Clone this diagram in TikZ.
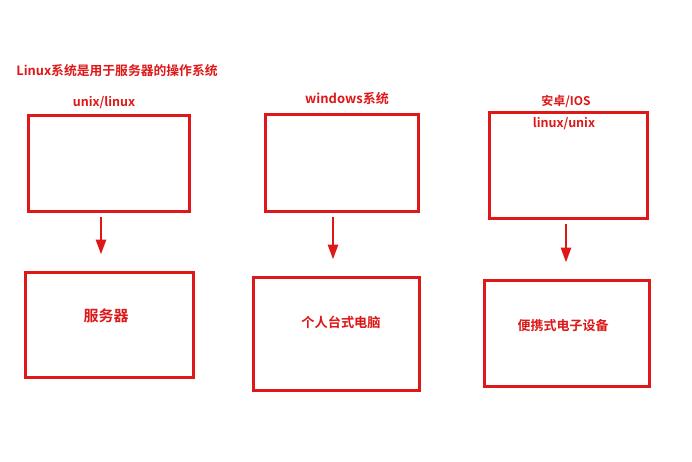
\documentclass[tikz,border=0pt]{standalone}
\usepackage{fontspec}
\newfontfamily\cjk{Noto Sans CJK SC}[BoldFont={Noto Sans CJK SC Bold}]
\usepackage{xcolor}
\usetikzlibrary{arrows.meta,shadows}
\definecolor{boxred}{RGB}{222,24,24}
\tikzset{
  frame/.style={draw=boxred, line width=3pt, fill=white, anchor=center,
    drop shadow={opacity=0.3, shadow xshift=2pt, shadow yshift=-2pt}},
  tag/.style={text=boxred, font=\cjk\bfseries\fontsize{11.5}{13}\selectfont, inner sep=1pt},
  big/.style={font=\cjk\bfseries\fontsize{#1}{#1}\selectfont},
  down/.style={draw=boxred, line width=2.8pt, -{Triangle[length=15pt,width=10pt]},
    shorten <=4pt, shorten >=16pt}
}
\begin{document}
\begin{tikzpicture}[x=1pt,y=-1pt]
\useasboundingbox (0,0) rectangle (692,461);
\fill[white] (0,0) rectangle (692,461);
% upper row: systems
\node[frame, minimum width=161pt, minimum height=96pt] (unixbox) at (108.5,163) {};
\node[frame, minimum width=153pt, minimum height=97pt] (winbox) at (341.5,162.5) {};
\node[frame, minimum width=158pt, minimum height=106pt] (mobbox) at (568,165) {};
% lower row: devices
\node[frame, minimum width=168pt, minimum height=105pt] (server) at (109,324.5) {};
\node[frame, minimum width=166pt, minimum height=113pt] (desktop) at (336,333.5) {};
\node[frame, minimum width=165pt, minimum height=106pt] (portable) at (566.5,333) {};
% labels
\node[tag, big=12.8] (title) at (117,71) {Linux系统是用于服务器的操作系统};
\node[tag, big=12.5] (unixlbl) at (104,103) {unix/linux};
\node[tag, big=13] (winlbl) at (347,99) {windows系统};
\node[tag, big=12] (moblbl) at (566,101) {安卓/IOS};
\node[tag, big=12.5] (linlbl) at (564,124) {linux/unix};
\node[tag, big=15] (srvlbl) at (106,316) {服务器};
\node[tag, big=13.2] (pclbl) at (341,322) {个人台式电脑};
\node[tag, big=13] (devlbl) at (563,326) {便携式电子设备};
% arrows
\draw[down] ([xshift=-7.5pt]unixbox.south) -- ([xshift=-7.5pt]unixbox.south |- server.north);
\draw[down] ([xshift=-8.5pt]winbox.south) -- ([xshift=-8.5pt]winbox.south |- desktop.north);
\draw[down] ([xshift=-2pt]mobbox.south) -- ([xshift=-2pt]mobbox.south |- portable.north);
\end{tikzpicture}
\end{document}
